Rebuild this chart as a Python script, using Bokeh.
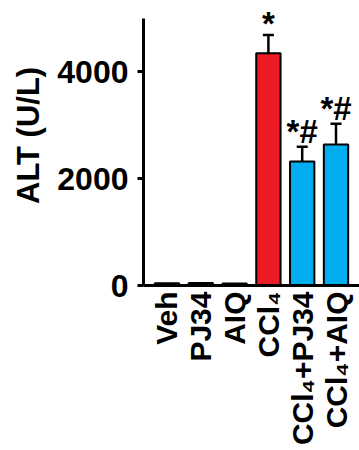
import math
from bokeh.plotting import figure
from bokeh.models import ColumnDataSource, Whisker, TeeHead, FixedTicker, Range1d
from bokeh.core.properties import value
from bokeh.embed import file_html
from bokeh.resources import INLINE

# ---- data ----
groups = ["Veh", "PJ34", "AIQ", "CCl\u2084", "CCl\u2084+PJ34", "CCl\u2084+AIQ"]
alt_mean = [40, 45, 38, 4350, 2320, 2640]
alt_sem = [0, 0, 0, 340, 280, 390]
bar_colors = ["#808080", "#808080", "#808080", "#ED1C24", "#00AEEF", "#00AEEF"]
significance = ["", "", "", "*", "*#", "*#"]
y_ticks = [0, 2000, 4000]
y_axis_max = 5000
y_view_max = 5300
y_label = "ALT (U/L)"

FONT = "Liberation Sans"

xs = list(range(len(groups)))
src = ColumnDataSource(dict(x=xs, top=alt_mean, color=bar_colors))

idx = [i for i in xs if alt_sem[i] > 0]
err_src = ColumnDataSource(dict(
    x=[xs[i] for i in idx],
    top=[alt_mean[i] for i in idx],
    upper=[alt_mean[i] + alt_sem[i] for i in idx],
))
star_idx = [i for i in idx if significance[i] == "*"]
both_idx = [i for i in idx if significance[i] == "*#"]
star_src = ColumnDataSource(dict(
    x=[xs[i] for i in star_idx],
    upper=[alt_mean[i] + alt_sem[i] for i in star_idx],
    sig=[significance[i] for i in star_idx],
))
both_src = ColumnDataSource(dict(
    x=[xs[i] for i in both_idx],
    upper=[alt_mean[i] + alt_sem[i] for i in both_idx],
    sig=[significance[i] for i in both_idx],
))

p = figure(frame_width=216, frame_height=283,
           x_range=Range1d(-0.695, 5.695), y_range=Range1d(0, y_view_max),
           output_backend="svg", toolbar_location=None,
           min_border_left=143, min_border_top=2, min_border_right=0, min_border_bottom=0)
p.outline_line_color = None
p.xgrid.grid_line_color = None
p.ygrid.grid_line_color = None
p.background_fill_color = "white"
p.border_fill_color = "white"

p.vbar(x="x", top="top", bottom=0, width=0.72, fill_color="color",
       line_color="black", line_width=2, source=src)

w = Whisker(base="x", lower="top", upper="upper", source=err_src,
            line_color="black", line_width=2.5,
            upper_head=TeeHead(size=11, line_color="black", line_width=2.5),
            lower_head=None)
p.add_layout(w)

txt_style = dict(text_align="center", text_baseline="alphabetic", text_color="black",
                 text_font=value(FONT), text_font_size="33px", text_font_style="bold")
p.text(x="x", y="upper", text="sig", source=star_src, y_offset=-12, **txt_style)
p.text(x="x", y="upper", text="sig", source=both_src, y_offset=-15, **txt_style)

# y axis
yax = p.yaxis[0]
yax.bounds = (0, y_axis_max)
yax.ticker = FixedTicker(ticks=y_ticks)
yax.axis_line_width = 3
yax.axis_line_color = "black"
yax.major_tick_line_width = 3
yax.major_tick_out = 6
yax.major_tick_in = 0
yax.minor_tick_line_color = None
yax.major_label_standoff = 9
yax.major_label_text_font = FONT
yax.major_label_text_font_size = "32px"
yax.major_label_text_font_style = "bold"
yax.major_label_text_color = "black"
yax.axis_label = "\u00a0\u00a0" + y_label
yax.axis_label_standoff = 8
yax.axis_label_text_font = FONT
yax.axis_label_text_font_size = "31px"
yax.axis_label_text_font_style = "bold"
yax.axis_label_text_color = "black"

# x axis
xax = p.xaxis[0]
xax.ticker = FixedTicker(ticks=xs)
xax.major_label_overrides = {i: g for i, g in zip(xs, groups)}
xax.axis_line_width = 3
xax.axis_line_color = "black"
xax.major_tick_line_color = None
xax.major_tick_out = 0
xax.major_tick_in = 0
xax.minor_tick_line_color = None
xax.major_label_orientation = math.pi / 2
xax.major_label_standoff = 6
xax.major_label_text_font = FONT
xax.major_label_text_font_size = "30px"
xax.major_label_text_font_style = "bold"
xax.major_label_text_color = "black"

open("out.html", "w").write(file_html(p, INLINE))
